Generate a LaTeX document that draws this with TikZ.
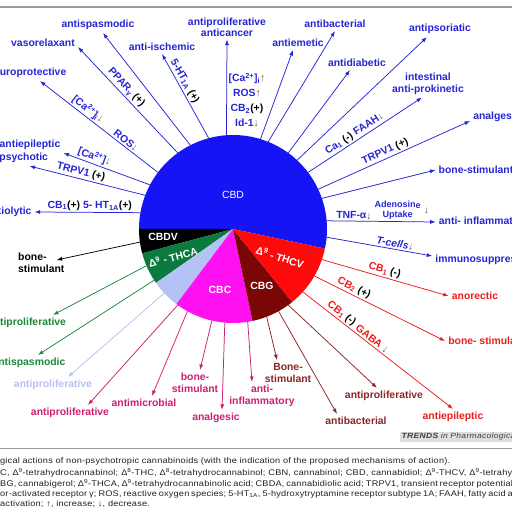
\documentclass[tikz,border=0pt]{standalone}
\usepackage{fontspec}
\setmainfont{Liberation Sans}
\newfontfamily\capfont[FakeStretch=1.12, LetterSpace=2.4]{Liberation Sans}
\newfontfamily\trendsfont[FakeStretch=1.12, LetterSpace=4]{Liberation Sans}
\usetikzlibrary{positioning, arrows.meta}
\definecolor{CBDBlue}{HTML}{1414F5}
\definecolor{CBDInk}{HTML}{2626D6}
\definecolor{THCVRed}{HTML}{FF0A0A}
\definecolor{THCVInk}{HTML}{EE1C1C}
\definecolor{CBGMaroon}{HTML}{7A0606}
\definecolor{CBGInk}{HTML}{8E2424}
\definecolor{CBCMagenta}{HTML}{FF10F0}
\definecolor{CBCInk}{HTML}{CC2070}
\definecolor{PaleBlue}{HTML}{B4C2F5}
\definecolor{PaleInk}{HTML}{B8C0F2}
\definecolor{THCAGreen}{HTML}{0B7A3E}
\definecolor{THCAInk}{HTML}{1A8A3A}
\definecolor{MechGray}{HTML}{555555}
\definecolor{RuleGray}{HTML}{9A9A9A}
\definecolor{CaptionInk}{HTML}{222222}
\newcommand{\incr}{\textcolor{MechGray}{↑}}
\newcommand{\decr}{\textcolor{MechGray}{↓}}
\newcommand{\mact}{\textcolor{black}{(+)}}
\newcommand{\minh}{\textcolor{black}{(-)}}

\begin{document}
\begin{tikzpicture}[x=1pt, y=1pt,
  effect/.style={font=\fontsize{10.4}{12}\selectfont\bfseries, align=center, inner sep=3pt},
  mech/.style={font=\fontsize{10.4}{12}\selectfont\bfseries, inner sep=1.5pt, sloped, above},
  sector/.style={font=\fontsize{10.4}{12}\selectfont\bfseries, text=white, inner sep=0pt},
  arr/.style={-{Latex[length=5.5pt,width=4pt]}, line width=0.75pt},
  note/.style={font=\capfont\fontsize{8.2}{9}\selectfont, text=CaptionInk, anchor=west, inner sep=0pt}
]
  \useasboundingbox (0,0) rectangle (512,512);
  \fill[white] (0,0) rectangle (512,512);
  \clip (0,0) rectangle (512,512);

  % Pie
  \node[circle, minimum size=188pt, inner sep=0pt, outer sep=0pt] (pie) at (233,283) {};
  \foreach \from/\to/\col in {-12/180/CBDBlue, 180/195/black, 195/215/THCAGreen, 215/233/PaleBlue,
      233/282/CBCMagenta, 282/309/CBGMaroon, 309/348/THCVRed}
    \fill[\col] (pie.center) -- (pie.\from) arc[start angle=\from, end angle=\to, radius=94pt] -- cycle;
  \node[sector, font=\fontsize{10.4}{12}\selectfont] (cbd) at (233,317) {CBD};
  \node[sector] (cbdv) at (163,275) {CBDV};
  \node[sector, rotate=15] (thca) at (173,255) {Δ\textsuperscript{9} - THCA};
  \node[sector, rotate=-18] (thcv) at (280,255) {Δ\textsuperscript{9} - THCV};
  \node[sector] (cbg) at (262,226) {CBG};
  \node[sector] (cbc) at (220,222) {CBC};

  % Effects of CBD
  \node[effect, text=CBDInk] (anxio) at (7.5,300) {anxiolytic};
  \node[effect, text=CBDInk] (psych) at (14.5,354) {antipsychotic};
  \node[effect, text=CBDInk] (epiA) at (30,367) {antiepileptic};
  \node[effect, text=CBDInk] (neuro) at (27,439) {neuroprotective};
  \node[effect, text=CBDInk] (vaso) at (43,469) {vasorelaxant};
  \node[effect, text=CBDInk] (spasmA) at (98,487) {antispasmodic};
  \node[effect, text=CBDInk] (ischem) at (162,465) {anti-ischemic};
  \node[effect, text=CBDInk] (cancer) at (227,485) {antiproliferative\\[-1pt]anticancer};
  \node[effect, text=CBDInk] (emetic) at (298,469) {antiemetic};
  \node[effect, text=CBDInk] (bactA) at (335,488) {antibacterial};
  \node[effect, text=CBDInk] (diab) at (357,449) {antidiabetic};
  \node[effect, text=CBDInk] (psor) at (440,483) {antipsoriatic};
  \node[effect, text=CBDInk] (intest) at (428,428.5) {intestinal\\anti-prokinetic};
  \node[effect, text=CBDInk] (analgA) at (497,395) {analgesic};
  \node[effect, text=CBDInk] (boneA) at (476,342) {bone-stimulant};
  \node[effect, text=CBDInk] (inflamA) at (484,290) {anti- inflammatory};
  \node[effect, text=CBDInk] (immuno) at (486,252) {immunosuppressive};
  \node[effect, text=CBDInk, font=\fontsize{10.4}{14.8}\selectfont\bfseries, inner sep=1pt] (cancermech) at (247,412)
    {[Ca\textsuperscript{2+}]\textsubscript{i}\incr\\ROS\incr\\CB\textsubscript{2}\mact\\Id-1\decr};

  % Effects of the other cannabinoids
  \node[effect, text=THCVInk] (anorex) at (475,216) {anorectic};
  \node[effect, text=THCVInk] (boneR) at (487,171) {bone- stimulant};
  \node[effect, text=THCVInk] (epiR) at (453,95) {antiepileptic};
  \node[effect, text=CBGInk] (prolifG) at (384,116) {antiproliferative};
  \node[effect, text=CBGInk] (bactG) at (356,91) {antibacterial};
  \node[effect, text=CBGInk] (boneG) at (288,139) {Bone-\\stimulant};
  \node[effect, text=CBCInk] (inflamC) at (262,116) {anti-\\inflammatory};
  \node[effect, text=CBCInk] (analgC) at (216,94) {analgesic};
  \node[effect, text=CBCInk] (boneC) at (195,129) {bone-\\stimulant};
  \node[effect, text=CBCInk] (microb) at (144,109) {antimicrobial};
  \node[effect, text=CBCInk] (prolifC) at (70,99) {antiproliferative};
  \node[effect, text=PaleInk] (prolifP) at (53,127) {antiproliferative};
  \node[effect, text=THCAInk] (prolifT) at (27,189) {antiproliferative};
  \node[effect, text=THCAInk] (spasmT) at (29,149) {antispasmodic};
  \node[effect, align=left, anchor=west] (boneV) at (15,249) {bone-\\stimulant};

  % CBD arrows
  \draw[arr, CBDInk] (pie.170) -- node[mech, pos=0.48] {CB\textsubscript{1}\mact{} 5- HT\textsubscript{1A}\mact} (anxio.east);
  \draw[arr, CBDInk] (pie.159) -- node[mech, pos=0.57] {TRPV1 \mact} ([xshift=15pt]psych.south);
  \draw[arr, CBDInk] (pie.152) -- node[mech, pos=0.67] {[Ca\textsuperscript{2+}]\decr} (epiA.south east);
  \draw[arr, CBDInk] (pie.143) -- node[mech, pos=0.30] {ROS\decr}
    node[mech, pos=0.63] {[Ca\textsuperscript{2+}]\textsubscript{i}\decr} ([xshift=13pt]neuro.south);
  \draw[arr, CBDInk] (pie.126) -- node[mech, pos=0.57] {PPAR\textsubscript{γ} \mact} ([yshift=-4pt]vaso.east);
  \draw[arr, CBDInk] (pie.117) -- ([xshift=5pt]spasmA.south);
  \draw[arr, CBDInk] (pie.105) -- node[mech, pos=0.64] {5-HT\textsubscript{1A} \mact} (ischem.south);
  \draw[arr, CBDInk] (pie.94) -- (cancer.south);
  \draw[arr, CBDInk] (pie.73) -- ([xshift=-5pt]emetic.south);
  \draw[arr, CBDInk] (pie.68) -- (bactA.south);
  \draw[arr, CBDInk] (pie.54) -- ([xshift=-7pt]diab.south);
  \draw[arr, CBDInk] (pie.47) -- ([xshift=-13pt]psor.south);
  \draw[arr, CBDInk] (pie.37) -- node[mech, pos=0.44] {Ca\textsubscript{1} \minh{} FAAH\decr} ([xshift=-6pt]intest.south);
  \draw[arr, CBDInk] (pie.25) -- node[mech, pos=0.46] {TRPV1 \mact} ([yshift=-4pt]analgA.west);
  \draw[arr, CBDInk] (pie.19) -- (boneA.west);
  \draw[arr, CBDInk] (pie.5) -- node[mech, pos=0.25] {TNF-α\decr}
    node[mech, pos=0.65, font=\fontsize{9}{10}\selectfont\bfseries, align=center,
      label={[MechGray, inner sep=1pt]east:↓}] {Adenosine\\Uptake} (inflamA.west);
  \draw[arr, CBDInk] (pie.-5) -- node[mech, pos=0.64, font=\fontsize{10.4}{12}\selectfont\bfseries\itshape] {T-cells\decr}
    ([yshift=4pt]immuno.west);

  % THCV, CBG, CBC, THCA, CBDV arrows
  \draw[arr, THCVInk] (pie.-19) -- node[mech, pos=0.48] {CB\textsubscript{1} \minh} (anorex.west);
  \draw[arr, THCVInk] (pie.-30) -- node[mech, pos=0.28] {CB\textsubscript{2} \mact} (boneR.west);
  \draw[arr, THCVInk] (pie.-42) -- node[mech, pos=0.23] {CB\textsubscript{1} \minh}
    node[mech, pos=0.44] {GABA \decr} (epiR.north);
  \draw[arr, CBGInk] (pie.-54) -- ([xshift=-7pt]prolifG.north);
  \draw[arr, CBGInk] (pie.-61) -- ([xshift=-19pt]bactG.north);
  \draw[arr, CBGInk] (pie.-69) -- ([xshift=-11pt]boneG.north);
  \draw[arr, CBCInk] (pie.-81) -- ([xshift=-10pt]inflamC.north);
  \draw[arr, CBCInk] (pie.265) -- ([xshift=6pt]analgC.north);
  \draw[arr, CBCInk] (pie.257) -- ([xshift=5pt]boneC.north);
  \draw[arr, CBCInk] (pie.241) -- ([xshift=8pt]microb.north);
  \draw[arr, CBCInk] (pie.234) -- ([xshift=18pt]prolifC.north);
  \draw[arr, PaleInk] (pie.223) -- ([xshift=15pt]prolifP.north);
  \draw[arr, THCAInk] (pie.203) -- ([xshift=26pt]prolifT.north);
  \draw[arr, THCAInk] (pie.213) -- ([xshift=9pt]spasmT.north);
  \draw[arr, black] (pie.188) -- ([shift={(-11pt,3pt)}]boneV.east);

  % Rules and caption
  \draw[RuleGray, line width=1.2pt] (0,505) -- (512,505);
  \draw[RuleGray, line width=0.8pt] (0,64) -- (512,64);
  \node[fill=black!13, font=\trendsfont\fontsize{7.6}{8}\selectfont\itshape, text=black!75, anchor=west,
    inner sep=1.5pt, minimum height=10pt] (trends) at (400,75) {\textbf{TRENDS} in Pharmacological Sciences};
  \node[note] (cap1) at (0,51) {gical actions of non-psychotropic cannabinoids (with the indication of the proposed mechanisms of action).};
  \node[note] (cap2) at (0,39) {\makebox[512pt][s]{C, Δ\textsuperscript{9}-tetrahydrocannabinol; Δ\textsuperscript{8}-THC, Δ\textsuperscript{8}-tetrahydrocannabinol; CBN, cannabinol; CBD, cannabidiol; Δ\textsuperscript{9}-THCV, Δ\textsuperscript{9}-tetrahy}};
  \node[note] (cap3) at (0,28.5) {\makebox[512pt][s]{BG, cannabigerol; Δ\textsuperscript{9}-THCA, Δ\textsuperscript{9}-tetrahydrocannabinolic acid; CBDA, cannabidiolic acid; TRPV1, transient receptor potential v}};
  \node[note] (cap4) at (0,18) {\makebox[512pt][s]{or-activated receptor γ; ROS, reactive oxygen species; 5-HT\textsubscript{1A}, 5-hydroxytryptamine receptor subtype 1A; FAAH, fatty acid a}};
  \node[note] (cap5) at (0,8) {activation; ↑, increase; ↓, decrease.};
\end{tikzpicture}
\end{document}
